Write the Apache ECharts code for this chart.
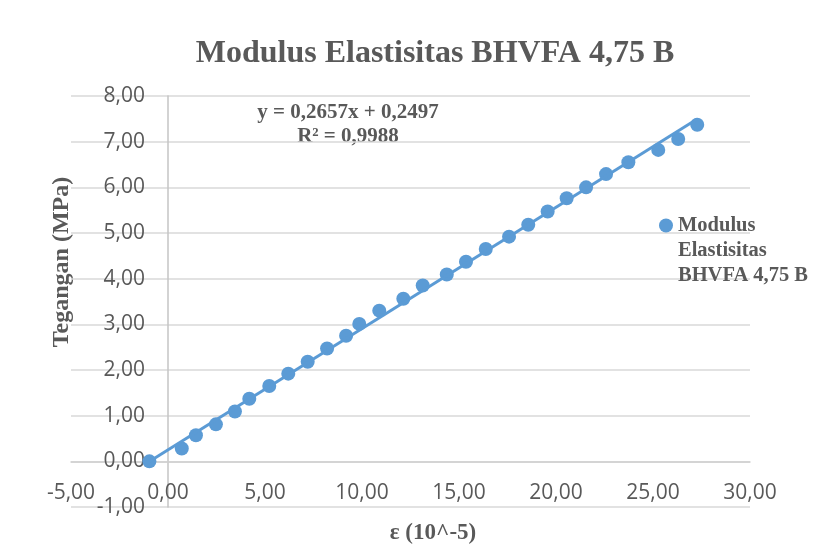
<!DOCTYPE html>
<html>
<head>
<meta charset="utf-8">
<script src="https://cdn.jsdelivr.net/npm/echarts@6/dist/echarts.min.js"></script>
<style>html,body{margin:0;padding:0;background:#fff}#c{width:840px;height:554px}</style>
</head>
<body>
<div id="c"></div>
<script>
// Data
const strain = [-0.96, 0.71, 1.44, 2.47, 3.45, 4.19, 5.22, 6.20, 7.20, 8.20, 9.18, 9.86, 10.89, 12.13,
  13.13, 14.37, 15.36, 16.38, 17.58, 18.57, 19.57, 20.55, 21.55, 22.58, 23.73, 25.27, 26.30, 27.28];
const stress = [0.00, 0.28, 0.57, 0.81, 1.09, 1.37, 1.65, 1.92, 2.18, 2.47, 2.75, 3.01, 3.30, 3.56,
  3.85, 4.09, 4.37, 4.65, 4.92, 5.18, 5.47, 5.76, 6.00, 6.29, 6.55, 6.82, 7.06, 7.37];
const trendSlope = 0.2657;
const trendIntercept = 0.2497;
const rSquared = '0,9988';
const seriesName = 'Modulus Elastisitas BHVFA 4,75 B';
const legendLines = ['Modulus', 'Elastisitas', 'BHVFA 4,75 B'];
const titleText = 'Modulus Elastisitas BHVFA 4,75 B';
const xName = 'ε (10^-5)';
const yName = 'Tegangan (MPa)';
const xMinAxis = -5, xMaxAxis = 30, xStep = 5;
const yMinAxis = -1, yMaxAxis = 8, yStep = 1;

const pts = strain.map((x, i) => [x, stress[i]]);
const xMin = Math.min(...strain), xMax = Math.max(...strain);
const trend = [[xMin, trendSlope * xMin + trendIntercept], [xMax, trendSlope * xMax + trendIntercept]];
const fmt = v => v.toFixed(2).replace('.', ',');
const fmt4 = v => v.toFixed(4).replace('.', ',');

const serif = '"Liberation Serif", "Times New Roman", serif';
const sans = '"Open Sans", "Liberation Sans", sans-serif';
const textCol = '#595959';
const blue = '#5B9BD5';

const W = 840, H = 554;
const gridL = 71, gridR = 90, gridT = 96, gridB = 47;
const plotW = W - gridL - gridR, plotH = H - gridT - gridB;
// axis crossing at zero: shift axes in from the grid edges
const yAxisOffset = -plotW * (0 - xMinAxis) / (xMaxAxis - xMinAxis);
const xAxisOffset = -plotH * (0 - yMinAxis) / (yMaxAxis - yMinAxis);

const chart = echarts.init(document.getElementById('c'), null, {renderer: 'canvas'});
chart.setOption({
  animation: false,
  backgroundColor: '#ffffff',
  title: {
    text: titleText, left: 430, textAlign: 'center', top: 33,
    textStyle: {fontFamily: serif, fontWeight: 'bold', fontSize: 32, color: textCol}
  },
  grid: {left: gridL, right: gridR, top: gridT, bottom: gridB, containLabel: false},
  legend: {
    data: [seriesName], left: 654, top: 158, orient: 'vertical',
    itemWidth: 14, itemHeight: 14, itemGap: 5,
    icon: 'circle',
    formatter: () => '\n\n' + legendLines.join('\n'),
    textStyle: {fontFamily: serif, fontWeight: 'bold', fontSize: 20.5, color: textCol, lineHeight: 25}
  },
  xAxis: {
    type: 'value', min: xMinAxis, max: xMaxAxis, interval: xStep,
    position: 'bottom', offset: xAxisOffset,
    axisLine: {show: true, onZero: false, lineStyle: {color: '#d0d0d0', width: 1.5}},
    axisTick: {show: false},
    splitLine: {show: false},
    axisLabel: {formatter: fmt, fontFamily: sans, fontSize: 21, color: textCol, margin: 21}
  },
  yAxis: {
    type: 'value', min: yMinAxis, max: yMaxAxis, interval: yStep,
    position: 'left', offset: yAxisOffset,
    axisLine: {show: true, onZero: false, lineStyle: {color: '#c4c4c4', width: 1.5}},
    axisTick: {show: false},
    splitLine: {show: true, lineStyle: {color: '#d9d9d9', width: 1.5}},
    axisLabel: {formatter: fmt, fontFamily: sans, fontSize: 21, color: textCol, margin: 23}
  },
  graphic: [
    {type: 'text', x: 62, y: 262, rotation: Math.PI / 2,
      style: {text: yName, fontFamily: serif, fontWeight: 'bold', fontSize: 24, fill: textCol, align: 'center', verticalAlign: 'middle'}},
    {type: 'text', x: 433, y: 533,
      style: {text: xName, fontFamily: serif, fontWeight: 'bold', fontSize: 23, fill: textCol, align: 'center', verticalAlign: 'middle'}},
    {type: 'text', x: 348, y: 113,
      style: {text: 'y = ' + fmt4(trendSlope) + 'x + ' + fmt4(trendIntercept), fontFamily: serif, fontWeight: 'bold', fontSize: 21, fill: textCol, align: 'center', verticalAlign: 'middle'}},
    {type: 'text', x: 348, y: 137,
      style: {text: 'R² = ' + rSquared, fontFamily: serif, fontWeight: 'bold', fontSize: 21, fill: textCol, align: 'center', verticalAlign: 'middle'}}
  ],
  series: [
    {name: 'trend', type: 'line', data: trend, showSymbol: false, symbol: 'none',
      lineStyle: {color: blue, width: 3}, z: 3, silent: true},
    {name: seriesName, type: 'scatter', data: pts, symbol: 'circle', symbolSize: 14,
      itemStyle: {color: blue, opacity: 1}, z: 2}
  ]
});
</script>
</body>
</html>
